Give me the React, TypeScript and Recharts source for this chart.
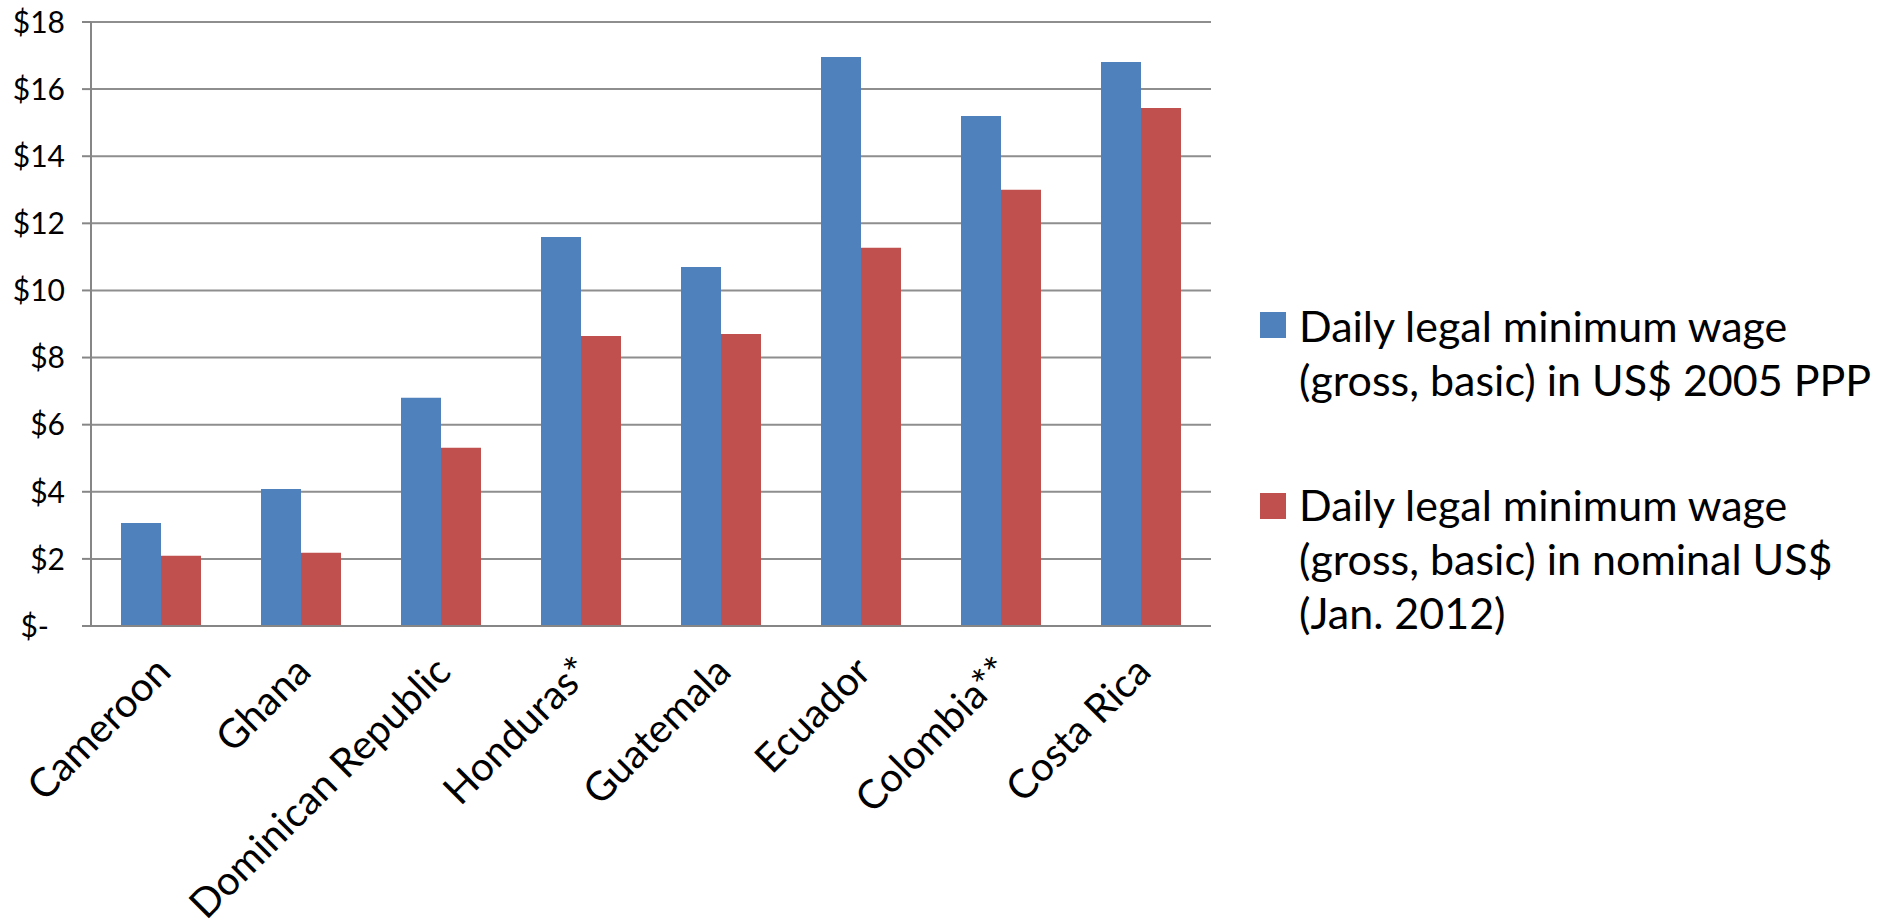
import React from 'react';
import { BarChart, Bar, XAxis, YAxis, CartesianGrid } from 'recharts';

// Daily legal minimum wage by country, two measures
const countries = [
  'Cameroon',
  'Ghana',
  'Dominican Republic',
  'Honduras*',
  'Guatemala',
  'Ecuador',
  'Colombia**',
  'Costa Rica',
];
const wagePpp2005 = [3.07, 4.08, 6.8, 11.59, 10.7, 16.96, 15.2, 16.81];
const wageNominal2012 = [2.09, 2.18, 5.31, 8.64, 8.7, 11.27, 13.0, 15.44];

const yTicks = [0, 2, 4, 6, 8, 10, 12, 14, 16, 18];
// category boundaries for the tick marks between groups
const boundaryTicks = [0, 1, 2, 3, 4, 5, 6, 7, 8];

const seriesKeys = ['ppp', 'nominal'];
const seriesColors = ['#4F81BD', '#C0504D'];
const seriesLabelLines = [
  ['Daily legal minimum wage', '(gross, basic) in US$ 2005 PPP'],
  ['Daily legal minimum wage', '(gross, basic) in nominal US$', '(Jan. 2012)'],
];

const data = countries.map((country, i) => ({
  country,
  ppp: wagePpp2005[i],
  nominal: wageNominal2012[i],
}));

const FONT = 'Lato, "Open Sans", sans-serif';
const AXIS = '#868686';
const GRID = '#8e8e8e';

const W = 1889;
const H = 922;

function YTick(props: any) {
  const { x, y, payload } = props;
  const v = payload.value as number;
  const label = v === 0 ? '$-' : `$${v}`;
  return (
    <text
      x={v === 0 ? x - 31 : x - 15}
      y={y}
      dy="0.36em"
      textAnchor="end"
      fontFamily={FONT}
      fontSize={30}
      fill="#000"
    >
      {label}
    </text>
  );
}

function XTick(props: any) {
  const { x, y, payload } = props;
  return (
    <g transform={`translate(${x + 12},${y + 48})`}>
      <text
        transform="rotate(-45)"
        textAnchor="end"
        fontFamily={FONT}
        fontSize={40}
        fill="#000"
      >
        {payload.value}
      </text>
    </g>
  );
}

function LegendBlock() {
  const blocks = [
    { squareY: 312, baselines: [342, 396] },
    { squareY: 493, baselines: [521, 575, 629] },
  ];
  return (
    <svg
      width={W}
      height={H}
      style={{ position: 'absolute', left: 0, top: 0, pointerEvents: 'none' }}
    >
      {seriesLabelLines.map((lines, i) => (
        <g key={i}>
          <rect x={1260} y={blocks[i].squareY} width={26} height={26} fill={seriesColors[i]} />
          {lines.map((line, j) => (
            <text
              key={j}
              x={1299}
              y={blocks[i].baselines[j]}
              fontFamily={FONT}
              fontSize={43}
              fill="#000"
            >
              {line}
            </text>
          ))}
        </g>
      ))}
    </svg>
  );
}

export default function App() {
  return (
    <div style={{ position: 'absolute', left: 0, top: 0, width: W, height: H, background: '#fff' }}>
      <BarChart
        width={W}
        height={H}
        data={data}
        margin={{ top: 22, right: W - 1211, bottom: 294, left: 0 }}
        barCategoryGap={30}
        barGap={0}
      >
        <CartesianGrid vertical={false} stroke={GRID} strokeWidth={2} />
        <XAxis
          dataKey="country"
          height={1}
          interval={0}
          tickLine={false}
          tickSize={0}
          tickMargin={0}
          axisLine={{ stroke: AXIS, strokeWidth: 2 }}
          tick={<XTick />}
        />
        <XAxis
          xAxisId="edge"
          type="number"
          domain={[0, 8]}
          ticks={boundaryTicks}
          interval={0}
          height={1}
          tick={false}
          axisLine={false}
          tickSize={13}
          tickLine={{ stroke: AXIS, strokeWidth: 2 }}
        />
        <YAxis
          domain={[0, 18]}
          ticks={yTicks}
          width={91}
          tickSize={9}
          tickMargin={2}
          interval={0}
          axisLine={{ stroke: AXIS, strokeWidth: 2 }}
          tickLine={{ stroke: AXIS, strokeWidth: 2 }}
          tick={<YTick />}
        />
        {seriesKeys.map((k, i) => (
          <Bar
            key={k}
            dataKey={k}
            name={seriesLabelLines[i].join(' ')}
            fill={seriesColors[i]}
            isAnimationActive={false}
          />
        ))}
      </BarChart>
      <LegendBlock />
    </div>
  );
}
